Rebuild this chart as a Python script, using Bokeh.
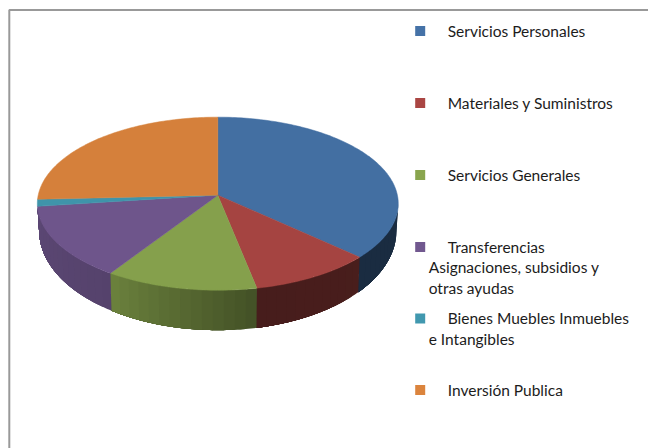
import numpy as np
from bokeh.plotting import figure
from bokeh.models import Range1d, ColumnDataSource
from bokeh.embed import file_html
from bokeh.resources import INLINE
from bokeh.core.properties import value

categories = ["Servicios Personales", "Materiales y Suministros", "Servicios Generales",
              "Transferencias Asignaciones, subsidios y otras ayudas",
              "Bienes Muebles Inmuebles e Intangibles", "Inversión Publica"]
values = [36.8, 10.05, 12.4, 13.7, 1.3, 25.75]
colors = ["#4572A7", "#AA4643", "#89A54E", "#71588F", "#4198AF", "#DB843D"]
legend_lines = [
    ["Servicios Personales"],
    ["Materiales y Suministros"],
    ["Servicios Generales"],
    ["Transferencias", "Asignaciones, subsidios y", "otras ayudas"],
    ["Bienes Muebles Inmuebles", "e Intangibles"],
    ["Inversión Publica"],
]
legend_y = [30.5, 102.5, 174.5, 246.5, 318, 389.5]
line_step = 20.7

# side shading (left end, right end of each slice's wall); None = wall not visible
side_shade = [(0.39, 0.39), (0.42, 0.43), (0.80, 0.50), (0.82, 0.76), None, None]
top_shade = 0.975

p = figure(width=648, height=448, x_range=Range1d(0, 648), y_range=Range1d(448, 0),
           output_backend="svg", toolbar_location=None, min_border=0)
p.axis.visible = False
p.grid.visible = False
p.outline_line_color = None

# frame
p.line([8.8, 8.8, 648], [448, 9.6, 9.6], line_color="#999999", line_width=2)

CX, CY, R, Q, K = 217.3, 194.7, 179.6, 85.7, 0.098
DEPTH, FX, FY = 25.75, 0.99, 1.15

def top(t):
    c, s = np.sin(t), -np.cos(t)
    w = 1 - K * s
    return CX + R * c / w, CY + Q * s / w

def bottom(t):
    c, s = np.sin(t), -np.cos(t)
    w = 1 - K * s
    return CX + FX * R * c / w, CY + DEPTH + FY * Q * s / w

def mix(col, f):
    r, g, b = [int(col[i:i + 2], 16) for i in (1, 3, 5)]
    return "#%02x%02x%02x" % (int(r * f), int(g * f), int(b * f))

edges = np.concatenate([[0], np.cumsum(values)]) / sum(values) * 2 * np.pi

# walls: drawn as narrow overlapping strips to give the gradient
sx, sy, sc = [], [], []
for i, col in enumerate(colors):
    if side_shade[i] is None:
        continue
    lo, hi = max(edges[i], np.pi * 0.53), edges[i + 1]
    f0, f1 = side_shade[i]
    n = max(2, int((hi - lo) / np.radians(3)))
    ts = np.linspace(lo, hi, n + 1)
    # each strip runs from its own start to the slice's far end, so no seams appear
    for j in range(n):
        arc = np.linspace(ts[j], hi, max(2, (n - j) * 4))
        xa, ya = top(arc)
        xb, yb = bottom(arc[::-1])
        sx.append(list(xa) + list(xb))
        sy.append(list(ya) + list(yb))
        u = (ts[j] - lo) / (hi - lo)
        sc.append(mix(col, f1 + (f0 - f1) * u))
p.patches(xs="x", ys="y", fill_color="c", line_color=None,
          source=ColumnDataSource(dict(x=sx, y=sy, c=sc)))

# top face
tx, ty, tc = [], [], []
for i, col in enumerate(colors):
    ts = np.linspace(edges[i], edges[i + 1], max(3, int((edges[i + 1] - edges[i]) / np.radians(1))))
    xx, yy = top(ts)
    tx.append([CX] + list(xx))
    ty.append([CY] + list(yy))
    tc.append(mix(col, top_shade))
p.patches(xs="x", ys="y", fill_color="c", line_color="c", line_width=0.5,
          source=ColumnDataSource(dict(x=tx, y=ty, c=tc)))

# legend
p.rect(x=[419.7] * 6, y=legend_y, width=10, height=10, fill_color=colors, line_color=None)
font = value("Lato")
for ly, lines in zip(legend_y, legend_lines):
    for k, line in enumerate(lines):
        lx = 447.2 if k == 0 else 428.2
        p.text(x=[lx], y=[ly + k * line_step - 0.5], text=[line], text_font=font,
               text_font_size="15.5px", text_color="#1c1c1c",
               text_baseline="middle", text_align="left")

open("out.html", "w").write(file_html(p, INLINE))
